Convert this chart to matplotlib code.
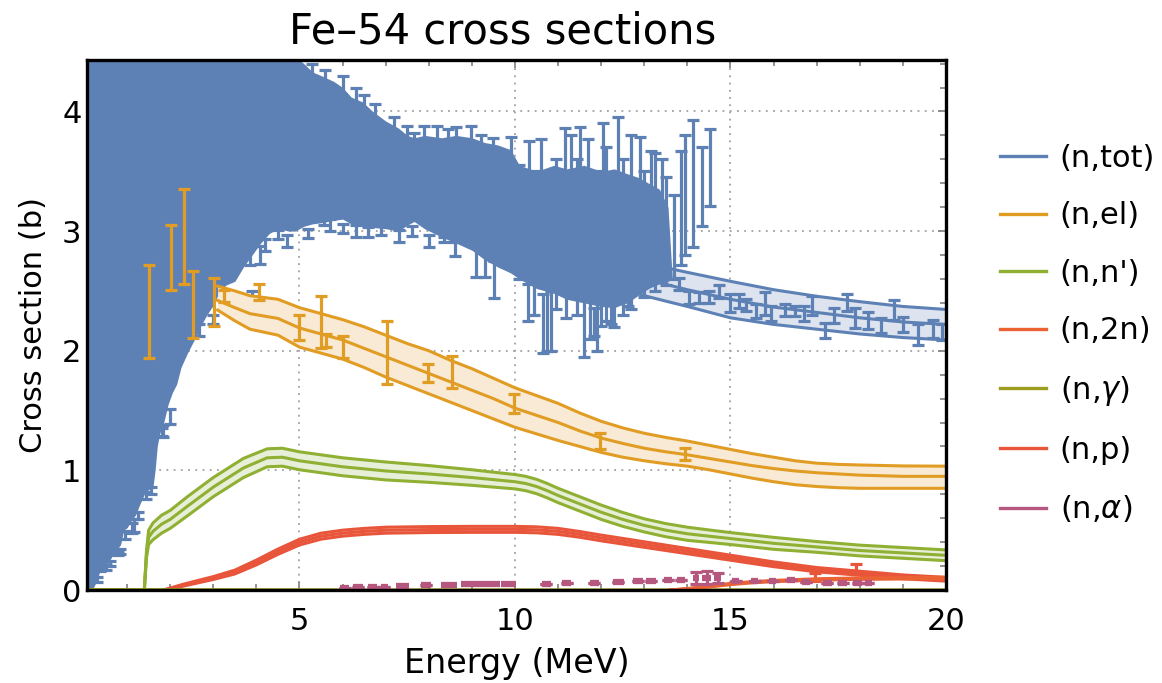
import numpy as np
import matplotlib
matplotlib.use("Agg")
import matplotlib.pyplot as plt
from matplotlib.lines import Line2D
from matplotlib.ticker import MultipleLocator

# ---------------- data ----------------
# (n,tot) dense measured region: lower / upper envelope of the measured points
blob_x = [0.07, 0.15, 0.22, 0.3, 0.37, 0.45, 0.55, 0.65, 0.75, 0.85, 0.92, 1.0, 1.1, 1.2,
          1.3, 1.4, 1.5, 1.6, 1.65, 1.7, 1.75, 1.85, 1.95, 2.05, 2.15, 2.25, 2.4, 2.5, 2.6,
          2.7, 2.85, 3.0, 3.15, 3.3, 3.5, 3.7, 3.9, 4.1, 4.3, 4.5, 4.75, 4.9, 5.1, 5.3, 5.5,
          5.8, 6.0, 6.2, 6.46, 6.7, 7.0, 7.3, 7.5, 7.66, 7.9, 8.3, 8.63, 9.0, 9.3, 9.6, 9.9,
          10.1, 10.5, 10.9, 11.2, 11.6, 12.0, 12.3, 12.6, 12.85, 13.1, 13.35, 13.55, 13.65]
blob_lo = [0.0, 0.0, 0.02, 0.08, 0.16, 0.19, 0.22, 0.28, 0.33, 0.38, 0.5, 0.52, 0.58, 0.63,
           0.72, 0.8, 0.84, 0.86, 1.0, 1.2, 1.3, 1.4, 1.55, 1.65, 1.72, 1.86, 1.98, 2.05, 2.12,
           2.2, 2.3, 2.38, 2.5, 2.55, 2.58, 2.7, 2.8, 2.9, 2.98, 3.02, 3.0, 3.0, 3.04, 3.06, 3.07,
           3.09, 3.1, 3.06, 3.04, 3.03, 3.02, 3.0, 3.05, 3.08, 3.02, 2.95, 2.9, 2.84, 2.76, 2.7,
           2.65, 2.6, 2.52, 2.48, 2.43, 2.4, 2.37, 2.36, 2.4, 2.46, 2.52, 2.56, 2.58, 2.6]
blob_hi = [4.6, 4.6, 4.6, 4.6, 4.6, 4.6, 4.6, 4.6, 4.6, 4.6, 4.6, 4.6, 4.6, 4.6,
           4.6, 4.6, 4.6, 4.6, 4.6, 4.6, 4.6, 4.6, 4.6, 4.6, 4.6, 4.6, 4.6, 4.6, 4.6,
           4.6, 4.6, 4.6, 4.6, 4.6, 4.6, 4.6, 4.6, 4.6, 4.6, 4.6, 4.5, 4.46, 4.4, 4.33, 4.3,
           4.25, 4.2, 4.12, 4.08, 4.0, 3.92, 3.86, 3.8, 3.78, 3.8, 3.78, 3.8, 3.78, 3.74, 3.72,
           3.68, 3.55, 3.5, 3.55, 3.52, 3.55, 3.5, 3.52, 3.48, 3.45, 3.4, 3.35, 3.2, 2.6]

# (n,tot) individual measured points with uncertainties
tot_x = [0.3, 0.37, 0.5, 0.6, 0.8, 0.84, 0.95, 1.11, 1.15, 1.25, 1.30, 1.45, 1.55, 1.81,
         1.84, 2.0, 2.66, 3.0, 3.86, 3.9, 3.9, 4.09, 4.2, 4.5, 4.71, 5.2, 5.56, 5.7, 6.0,
         6.3, 6.6, 6.88, 7.3, 7.6, 8.0, 8.36, 8.6, 9.09, 9.3, 9.52, 10.3, 10.64, 10.84,
         11.19, 11.61, 11.84, 12.0, 12.23, 12.62,
         5.3, 5.6, 6.0, 6.3, 6.5, 6.75, 7.19, 7.5, 7.66, 7.9, 8.2, 8.45, 8.63, 8.98, 9.2, 9.5,
         9.91, 10.33, 10.6, 11.15, 11.5, 11.69, 12.04, 12.39, 12.89, 13.16, 13.4,
         10.1, 10.45, 10.75, 10.95, 11.3, 11.45, 11.75, 11.9, 12.1, 12.3, 12.5, 12.7, 13.0,
         13.25, 13.5, 13.7, 13.86, 13.95, 14.13, 14.33, 14.52,
         13.81, 14.04, 14.28, 14.51, 14.74, 15.0, 15.2, 15.35, 15.6, 15.8, 15.95, 16.26,
         16.5, 16.7, 16.9, 17.2, 17.4, 17.7, 17.9, 18.2, 18.5, 18.8, 19.0, 19.35, 19.7, 19.9]
tot_y = [0.09, 0.175, 0.19, 0.22, 0.31, 0.32, 0.46, 0.52, 0.54, 0.62, 0.88, 0.79, 0.83, 1.32,
         1.33, 1.45, 2.17, 2.26, 2.80, 2.41, 2.37, 2.80, 2.88, 2.97, 2.92, 2.98, 3.08, 3.05, 3.02,
         3.0, 2.99, 3.01, 2.96, 3.0, 2.92, 2.93, 2.85, 2.755, 2.72, 2.595, 2.405, 2.225, 2.25,
         2.415, 2.21, 2.24, 2.31, 2.345, 2.42,
         4.3, 4.25, 4.2, 4.12, 4.05, 3.98, 3.85, 3.8, 3.74, 3.78, 3.78, 3.75, 3.77, 3.76, 3.7,
         3.68, 3.62, 3.55, 3.55, 3.535, 3.55, 3.5, 3.5, 3.45, 3.4, 3.3, 3.25,
         3.075, 2.9, 2.6, 2.975, 3.15, 2.95, 2.7, 2.75, 2.975, 2.75, 2.95, 3.075, 2.975,
         3.075, 3.0, 2.95, 3.195, 3.3, 3.40, 3.37, 3.53,
         2.56, 2.445, 2.445, 2.45, 2.495, 2.395, 2.415, 2.38, 2.33, 2.395, 2.31, 2.34,
         2.33, 2.31, 2.38, 2.17, 2.295, 2.40, 2.275, 2.25, 2.21, 2.34, 2.22, 2.135, 2.185, 2.155]
tot_err = [0.02, 0.02, 0.02, 0.02, 0.02, 0.02, 0.03, 0.04, 0.055, 0.03, 0.03, 0.03, 0.03, 0.035,
           0.05, 0.06, 0.05, 0.04, 0.08, 0.09, 0.05, 0.075, 0.05, 0.04, 0.05, 0.04, 0.03, 0.05,
           0.04, 0.05, 0.04, 0.04, 0.05, 0.04, 0.05, 0.02, 0.06, 0.135, 0.1, 0.155, 0.155, 0.245,
           0.25, 0.145, 0.26, 0.12, 0.10, 0.125, 0.05,
           0.1, 0.1, 0.1, 0.08, 0.09, 0.08, 0.1, 0.08, 0.08, 0.1, 0.1, 0.1, 0.1, 0.12, 0.1,
           0.1, 0.17, 0.2, 0.22, 0.325, 0.32, 0.27, 0.4, 0.5, 0.39, 0.37, 0.35,
           0.475, 0.6, 0.6, 0.625, 0.65, 0.65, 0.6, 0.75, 0.725, 0.55, 0.65, 0.725, 0.525,
           0.575, 0.45, 0.35, 0.475, 0.5, 0.53, 0.33, 0.32,
           0.05, 0.055, 0.045, 0.05, 0.055, 0.075, 0.055, 0.05, 0.06, 0.095, 0.06, 0.05,
           0.04, 0.06, 0.08, 0.06, 0.065, 0.07, 0.085, 0.07, 0.06, 0.08, 0.06, 0.085, 0.075, 0.065]

# (n,tot) evaluation band
tot_ev_x = [12.5, 13.0, 13.55, 14.0, 15.0, 16.0, 17.0, 18.0, 19.0, 20.0]
tot_ev_hi = [2.78, 2.74, 2.69, 2.655, 2.58, 2.51, 2.455, 2.41, 2.37, 2.345]
tot_ev_mid = [2.65, 2.60, 2.55, 2.51, 2.43, 2.365, 2.32, 2.275, 2.24, 2.22]
tot_ev_lo = [2.52, 2.46, 2.41, 2.37, 2.275, 2.22, 2.18, 2.14, 2.11, 2.09]

# (n,el) evaluation band
el_x = [3.1, 3.5, 3.85, 4.5, 5.0, 5.5, 6.0, 6.5, 7.0, 7.5, 8.0, 8.5, 9.0, 9.5, 10.0,
        10.5, 11.0, 11.5, 12.0, 12.5, 13.0, 13.5, 14.0, 14.5, 15.0, 15.5, 16.0, 16.5,
        17.0, 17.5, 18.0, 19.0, 20.0]
el_mid = [2.42, 2.36, 2.31, 2.27, 2.19, 2.14, 2.09, 2.02, 1.95, 1.88, 1.81, 1.74, 1.67, 1.60,
          1.52, 1.46, 1.40, 1.33, 1.27, 1.225, 1.185, 1.155, 1.13, 1.10, 1.07, 1.04, 1.015,
          0.995, 0.98, 0.97, 0.96, 0.95, 0.95]
el_hi = [2.54, 2.50, 2.46, 2.43, 2.36, 2.31, 2.26, 2.20, 2.13, 2.06, 2.0, 1.92, 1.85, 1.77,
         1.69, 1.625, 1.56, 1.48, 1.41, 1.355, 1.31, 1.275, 1.245, 1.21, 1.175, 1.14, 1.11,
         1.08, 1.06, 1.05, 1.045, 1.037, 1.035]
el_lo = [2.34, 2.25, 2.18, 2.13, 2.03, 1.98, 1.93, 1.86, 1.78, 1.71, 1.64, 1.57, 1.50, 1.43,
         1.36, 1.305, 1.25, 1.20, 1.15, 1.11, 1.08, 1.055, 1.035, 1.005, 0.97, 0.935, 0.905,
         0.88, 0.865, 0.855, 0.85, 0.85, 0.85]

# (n,el) measured points
el_data_x = [1.5, 2.02, 2.33, 2.52, 3.01, 3.25, 4.05, 5.0, 5.51, 5.62, 6.02, 7.02, 7.99, 8.53,
             9.98, 11.97, 13.94]
el_data_y = [2.33, 2.78, 2.955, 2.39, 2.41, 2.46, 2.49, 2.195, 2.24, 2.085, 2.03, 1.985, 1.815,
             1.825, 1.56, 1.245, 1.14]
el_data_err = [0.39, 0.27, 0.40, 0.28, 0.20, 0.05, 0.07, 0.105, 0.22, 0.055, 0.09, 0.265, 0.075,
               0.135, 0.08, 0.07, 0.05]

# (n,n') evaluation
inl_x = [1.40, 1.45, 1.50, 1.6, 1.8, 2.0, 2.4, 3.0, 3.7, 4.25, 4.6, 5.0, 6.0, 7.0, 8.0, 9.0,
         10.0, 10.25, 10.5, 10.75, 11.0, 11.5, 12.0, 12.5, 13.0, 13.5, 14.0, 14.5, 15.0, 16.0,
         17.0, 18.0, 19.0, 20.0]
inl_mid = [0.0, 0.30, 0.44, 0.49, 0.55, 0.59, 0.70, 0.86, 1.02, 1.105, 1.11, 1.08, 1.03, 0.995,
           0.97, 0.94, 0.905, 0.89, 0.865, 0.83, 0.79, 0.72, 0.65, 0.59, 0.54, 0.50, 0.47,
           0.45, 0.43, 0.39, 0.36, 0.33, 0.31, 0.29]
inl_unc = [0.0, 0.03, 0.06, 0.07, 0.075, 0.075, 0.08, 0.08, 0.08, 0.075, 0.075, 0.075, 0.075,
           0.075, 0.07, 0.065, 0.06, 0.06, 0.06, 0.06, 0.06, 0.06, 0.06, 0.058, 0.055, 0.055,
           0.055, 0.052, 0.05, 0.05, 0.045, 0.045, 0.045, 0.045]

# (n,2n) evaluation
n2n_x = [13.6, 14.0, 14.4, 15.0, 15.5, 16.0, 17.0, 18.0, 19.0, 20.0]
n2n_mid = [0.0, 0.01, 0.025, 0.05, 0.065, 0.075, 0.088, 0.095, 0.098, 0.10]
n2n_unc = [0.0, 0.002, 0.004, 0.005, 0.005, 0.005, 0.006, 0.006, 0.006, 0.006]

# (n,gamma) evaluation (millibarn level)
ng_x = [0.07, 5.0, 10.0, 15.0, 20.0]
ng_mid = [0.004, 0.002, 0.001, 0.001, 0.001]

# (n,p) evaluation
np_x = [1.85, 2.3, 3.0, 3.5, 4.0, 4.5, 5.0, 5.5, 6.0, 6.5, 7.0, 8.0, 9.0, 10.0, 10.5, 11.0,
        11.5, 12.0, 13.0, 14.0, 15.0, 16.0, 17.0, 18.0, 19.0, 20.0]
np_mid = [0.0, 0.04, 0.10, 0.15, 0.23, 0.32, 0.40, 0.45, 0.475, 0.49, 0.50, 0.505, 0.507, 0.507,
          0.503, 0.49, 0.465, 0.435, 0.38, 0.325, 0.27, 0.215, 0.17, 0.14, 0.11, 0.09]
np_unc = [0.0, 0.008, 0.012, 0.016, 0.02, 0.022, 0.024, 0.025, 0.025, 0.025, 0.025, 0.025,
          0.025, 0.025, 0.025, 0.025, 0.024, 0.024, 0.023, 0.022, 0.021, 0.02, 0.018, 0.017,
          0.016, 0.016]

# (n,p) measured points
np_data_x = [16.95, 17.92]
np_data_y = [0.11, 0.175]
np_data_err = [0.035, 0.045]

# (n,alpha) measured points (energy bin half-widths in alpha_dx)
alpha_x = [6.05, 6.35, 6.7, 6.97, 7.39, 7.94, 8.47, 8.9, 9.2, 9.5, 9.85, 10.73, 11.2, 11.84,
           12.4, 12.85, 13.15, 13.55, 13.85, 14.2, 14.45, 14.7, 15.12, 15.56, 15.98, 16.4,
           16.75, 17.25, 17.6, 17.95, 18.2]
alpha_y = [0.02, 0.022, 0.025, 0.028, 0.033, 0.042, 0.042, 0.047, 0.047, 0.047, 0.047, 0.053,
           0.061, 0.061, 0.07, 0.075, 0.075, 0.084, 0.084, 0.10, 0.103, 0.10, 0.075, 0.075,
           0.075, 0.081, 0.07, 0.061, 0.061, 0.061, 0.06]
alpha_dx = [0.1, 0.12, 0.1, 0.08, 0.16, 0.12, 0.18, 0.15, 0.15, 0.15, 0.18, 0.1, 0.1, 0.1,
            0.12, 0.12, 0.12, 0.1, 0.1, 0.08, 0.1, 0.08, 0.08, 0.08, 0.08, 0.1, 0.1, 0.1,
            0.1, 0.1, 0.08]
alpha_err = [0.0, 0.0, 0.0, 0.0, 0.0, 0.0, 0.0, 0.0, 0.0, 0.0, 0.0, 0.0, 0.0, 0.0, 0.0, 0.0,
             0.0, 0.0, 0.0, 0.05, 0.055, 0.04, 0.0, 0.0, 0.0, 0.0, 0.0, 0.0, 0.0, 0.0, 0.0]

labels = ["(n,tot)", "(n,el)", "(n,n')", "(n,2n)", "(n,$\\gamma$)", "(n,p)", "(n,$\\alpha$)"]
colors = ["#5E81B5", "#E19C24", "#8FB032", "#EB6235", "#9C9C1E", "#E8553A", "#B5577E"]
fills = ["#DDE4EF", "#F8EAD4", "#E7EFD8", "#FBDCD1", "#EDEDC8", "#FADBD2", "#F0DCE4"]

# ---------------- figure ----------------
plt.rcParams["font.family"] = ["DejaVu Sans"]
plt.rcParams["font.size"] = 22
plt.rcParams["mathtext.fontset"] = "dejavusans"

W, H = 1162, 683
fig = plt.figure(figsize=(W / 100, H / 100), dpi=100)
ax = fig.add_axes([87 / W, 1 - 590 / H, (946 - 87) / W, (590 - 60) / H])

LW = 2.2
ELW = 2.3
CAP = 4.4


def band(x, lo, mid, hi, i, z):
    ax.fill_between(x, lo, hi, color=fills[i], lw=0, zorder=z)
    for yy in (lo, mid, hi):
        ax.plot(x, yy, color=colors[i], lw=LW, zorder=z + 0.1, solid_joinstyle="round")


def band_unc(x, mid, unc, i, z):
    m = np.asarray(mid)
    u = np.asarray(unc)
    band(x, m - u, m, m + u, i, z)


def bars(x, y, err, i, z):
    ax.errorbar(x, y, yerr=err, fmt="none", ecolor=colors[i], elinewidth=ELW,
                capsize=CAP, capthick=ELW, zorder=z)


# (n,tot)
band(tot_ev_x, tot_ev_lo, tot_ev_mid, tot_ev_hi, 0, 2)
ax.fill_between(blob_x, blob_lo, blob_hi, color=colors[0], lw=0, zorder=3)
bars(tot_x, tot_y, tot_err, 0, 3.2)

# (n,el)
band(el_x, el_lo, el_mid, el_hi, 1, 4)
bars(el_data_x, el_data_y, el_data_err, 1, 4.5)

# (n,n')
band_unc(inl_x, inl_mid, inl_unc, 2, 5)

# (n,p)
band_unc(np_x, np_mid, np_unc, 5, 5.5)
bars(np_data_x, np_data_y, np_data_err, 5, 5.7)

# (n,2n)
band_unc(n2n_x, n2n_mid, n2n_unc, 3, 6)

# (n,gamma)
ax.plot(ng_x, ng_mid, color=colors[4], lw=LW, zorder=6)

# (n,alpha)
ax.errorbar(alpha_x, alpha_y, xerr=alpha_dx, fmt="none", ecolor=colors[6],
            elinewidth=4.5, capsize=0, zorder=6.5)
bars(alpha_x, alpha_y, alpha_err, 6, 6.5)

# ---------------- axes styling ----------------
ax.set_xlim(0.07, 20)
ax.set_ylim(0, 4.43)
ax.xaxis.set_major_locator(MultipleLocator(5))
ax.xaxis.set_minor_locator(MultipleLocator(1))
ax.yaxis.set_major_locator(MultipleLocator(1))
ax.yaxis.set_minor_locator(MultipleLocator(0.2))
ax.tick_params(which="both", direction="in", top=True, right=True, color="#808080",
               width=1.2)
ax.tick_params(which="major", length=6)
ax.tick_params(which="minor", length=4)
ax.tick_params(axis="x", which="major", pad=12)
ax.tick_params(axis="y", which="major", pad=4)
for s in ax.spines.values():
    s.set_linewidth(2.4)
    s.set_color("black")
    s.set_zorder(10)
ax.set_axisbelow(True)
ax.grid(True, which="major", color="#A0A0A0", lw=1.3, linestyle=(0, (1, 3)))

fig.text(503 / W, 1 - 44 / H, "Fe\u201354 cross sections", fontsize=30,
         ha="center", va="baseline")
ax.set_xlabel("Energy (MeV)", fontsize=24, labelpad=8)
ax.set_ylabel("Cross section (b)", fontsize=22, labelpad=10)

handles = [Line2D([], [], color=c, lw=2.4) for c in colors]
fig.legend(handles, labels, loc="upper left", bbox_to_anchor=(1000 / W, 1 - 144 / H),
           frameon=False, handlelength=1.5, handletextpad=0.45, labelspacing=0.93,
           borderaxespad=0, borderpad=0)

fig.savefig("out.png", dpi=100)
